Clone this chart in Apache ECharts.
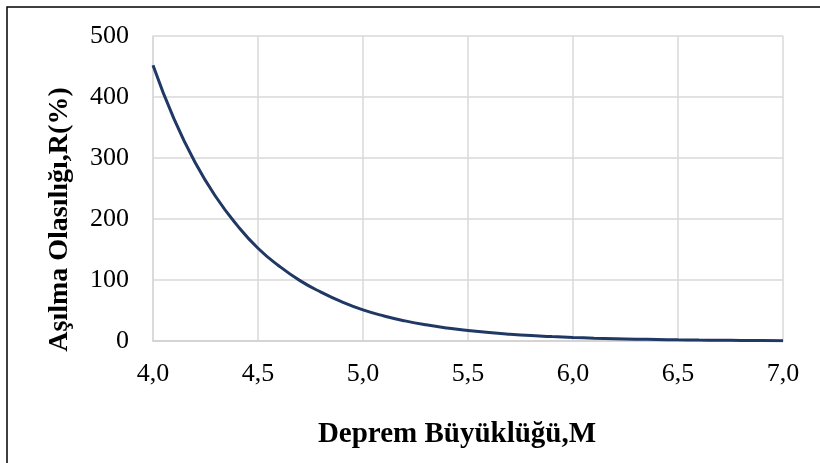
<!DOCTYPE html>
<html>
<head>
<meta charset="utf-8">
<script src="https://cdn.jsdelivr.net/npm/echarts@6/dist/echarts.min.js"></script>
<style>
  html, body { margin: 0; padding: 0; background: #fff; }
  #chart { width: 820px; height: 463px; }
</style>
</head>
<body>
<div id="chart"></div>
<script>
// Deprem büyüklüğü (M) ve aşılma olasılığı R(%)
const magnitudes = [4.0, 4.1, 4.2, 4.3, 4.4, 4.5, 4.6, 4.7, 4.8, 4.9,
                    5.0, 5.1, 5.2, 5.3, 5.4, 5.5, 5.6, 5.7, 5.8, 5.9,
                    6.0, 6.1, 6.2, 6.3, 6.4, 6.5, 6.6, 6.7, 6.8, 6.9, 7.0];
const exceedance = [452, 364, 293, 236, 190, 152, 123, 99, 80, 64,
                    51, 41, 33, 26.5, 21.3, 17.2, 13.8, 11.1, 8.9, 7.2,
                    5.8, 4.7, 3.8, 3.0, 2.4, 1.9, 1.5, 1.2, 1.0, 0.8, 0.6];
const xTitle = 'Deprem Büyüklüğü,M';
const yTitle = 'Aşılma Olasılığı,R(%)';

const points = magnitudes.map((m, i) => [m, exceedance[i]]);
const serif = '"Liberation Serif", "Times New Roman", serif';

const chart = echarts.init(document.getElementById('chart'));
chart.setOption({
  backgroundColor: '#ffffff',
  animation: false,
  grid: { left: 153, right: 37, top: 36, bottom: 122 },
  graphic: [{
    type: 'rect',
    shape: { x: 7, y: 7, width: 840, height: 480 },
    style: { fill: 'none', stroke: '#000000', lineWidth: 1.5 },
    silent: true
  }],
  xAxis: {
    type: 'value',
    min: 4, max: 7, interval: 0.5,
    name: xTitle,
    nameLocation: 'middle',
    nameGap: 79,
    nameTextStyle: {
      fontFamily: serif, fontWeight: 'bold', fontSize: 29, color: '#000',
      padding: [0, 22, 0, 0]
    },
    axisLine: { show: true, lineStyle: { color: '#d0d0d0', width: 1.5 } },
    axisTick: { show: false },
    axisLabel: {
      margin: 20,
      fontFamily: serif, fontSize: 26, color: '#000',
      formatter: v => v.toFixed(1).replace('.', ',')
    },
    splitLine: { show: true, lineStyle: { color: '#d9d9d9', width: 1.5 } }
  },
  yAxis: {
    type: 'value',
    min: 0, max: 500, interval: 100,
    name: yTitle,
    nameLocation: 'middle',
    nameRotate: 90,
    nameGap: 79,
    nameTextStyle: {
      fontFamily: serif, fontWeight: 'bold', fontSize: 28, color: '#000',
      padding: [0, 62, 0, 0]
    },
    axisLine: { show: true, lineStyle: { color: '#d9d9d9', width: 1.5 } },
    axisTick: { show: false },
    axisLabel: { margin: 24, fontFamily: serif, fontSize: 26, color: '#000' },
    splitLine: { show: true, lineStyle: { color: '#d9d9d9', width: 1.5 } }
  },
  series: [{
    type: 'line',
    data: points,
    smooth: true,
    showSymbol: false,
    lineStyle: { color: '#1f3864', width: 3 },
    itemStyle: { color: '#1f3864' }
  }]
});
</script>
</body>
</html>
